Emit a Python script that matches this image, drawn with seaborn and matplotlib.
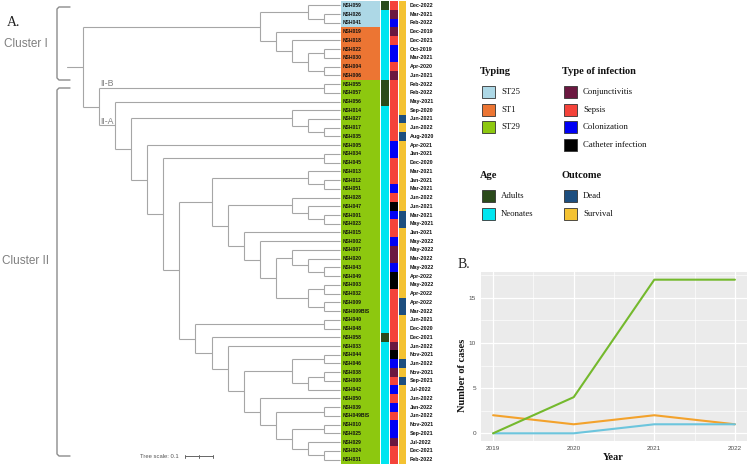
import numpy as np
import pandas as pd
import seaborn as sns
import matplotlib
matplotlib.use("Agg")
import matplotlib.pyplot as plt
from matplotlib.colors import ListedColormap
from matplotlib.patches import Rectangle
import matplotlib.transforms as mtransforms

# ---------------- data ----------------
isolates = ["NSH059", "NSH026", "NSH041", "NSH019", "NSH018", "NSH022", "NSH030", "NSH004", "NSH006",
            "NSH055", "NSH057", "NSH056", "NSH014", "NSH027", "NSH017", "NSH035", "NSH005", "NSH034",
            "NSH045", "NSH013", "NSH012", "NSH051", "NSH028", "NSH047", "NSH001", "NSH023", "NSH015",
            "NSH002", "NSH007", "NSH020", "NSH043", "NSH049", "NSH003", "NSH032", "NSH009", "NSH009BIS",
            "NSH040", "NSH048", "NSH058", "NSH033", "NSH044", "NSH046", "NSH038", "NSH008", "NSH042",
            "NSH050", "NSH039", "NSH049BIS", "NSH010", "NSH025", "NSH029", "NSH024", "NSH031"]
dates = ["Dec-2022", "Mar-2021", "Feb-2022", "Dec-2019", "Dec-2021", "Oct-2019", "Mar-2021", "Apr-2020",
         "Jun-2021", "Feb-2022", "Feb-2022", "May-2021", "Sep-2020", "Jun-2021", "Jun-2022", "Aug-2020",
         "Apr-2021", "Jan-2021", "Dec-2020", "Mar-2021", "Jan-2021", "Mar-2021", "Jun-2022", "Jun-2021",
         "Mar-2021", "May-2021", "Jan-2021", "May-2022", "May-2022", "Mar-2022", "May-2022", "Apr-2022",
         "May-2022", "Apr-2022", "Apr-2022", "Mar-2022", "Jun-2021", "Dec-2020", "Dec-2021", "Jun-2022",
         "Nov-2021", "Jun-2022", "Nov-2021", "Sep-2021", "Jul-2022", "Jun-2022", "Jan-2022", "Jun-2022",
         "Nov-2021", "Sep-2021", "Jul-2022", "Dec-2021", "Feb-2022"]
typing = ["ST25"] * 3 + ["ST1"] * 6 + ["ST29"] * 44
age = (["Adults"] + ["Neonates"] * 8 + ["Adults"] * 3 + ["Neonates"] * 26 + ["Adults"] + ["Neonates"] * 14)
infection_code = "SCKCSKKSCSSSSSSSKKSSSKSXKSSKCCKXXSSSSSSCXKCSKSKSKKCSS"
infection_names = {"C": "Conjunctivitis", "S": "Sepsis", "K": "Colonization", "X": "Catheter infection"}
infection = [infection_names[c] for c in infection_code]
dead_rows = ["NSH027", "NSH035", "NSH001", "NSH023", "NSH009", "NSH009BIS", "NSH046", "NSH008"]
outcome = ["Dead" if n in dead_rows else "Survival" for n in isolates]

# tree topology (Newick, cladogram: branch lengths not used)
clade_cluster1 = "((NSH059,(NSH026,NSH041)),(NSH019,(NSH018,((NSH022,NSH030),(NSH004,NSH006)))))"
clade_bottom = ("(NSH033,(((NSH044,NSH046),((NSH038,NSH008),NSH042)),"
                "(NSH050,((NSH039,NSH049BIS),((NSH010,NSH025),(NSH029,(NSH024,NSH031)))))))")
clade_lower = "((NSH040,NSH048),(NSH058," + clade_bottom + "))"
clade_mid = ("(NSH015,(NSH002,((NSH007,(NSH020,(NSH043,NSH049))),"
             "((NSH003,NSH032),(NSH009,NSH009BIS)))))")
clade_upper = "((NSH013,(NSH012,NSH051)),((NSH028,(NSH047,(NSH001,NSH023)))," + clade_mid + "))"
clade_2a = ("(NSH056,((NSH014,(NSH027,(NSH017,NSH035))),(NSH005,((NSH034,NSH045),("
            + clade_upper + "," + clade_lower + ")))))")
clade_cluster2 = "((NSH055,NSH057)," + clade_2a + ")"
tree_newick = "(" + clade_cluster1 + "," + clade_cluster2 + ")"

years = [2019, 2020, 2021, 2022]
cases_st1 = [2, 1, 2, 1]
cases_st25 = [0, 0, 1, 1]
cases_st29 = [0, 4, 17, 17]

typing_levels = ["ST25", "ST1", "ST29"]
typing_colors = ["#ADD8E6", "#EC7533", "#8DC80F"]
age_levels = ["Adults", "Neonates"]
age_colors = ["#2B4A1B", "#00E5F0"]
inf_levels = ["Conjunctivitis", "Sepsis", "Colonization", "Catheter infection"]
inf_colors = ["#6B1840", "#F4433A", "#0000F5", "#000000"]
out_levels = ["Dead", "Survival"]
out_colors = ["#1D4E7F", "#F4C232"]
line_colors = {"ST1": "#F3A22C", "ST25": "#6CC5DD", "ST29": "#74B92D"}

SERIF = ["Liberation Serif", "DejaVu Serif"]
SANS = ["Liberation Sans", "DejaVu Sans"]

# ---------------- tree parsing / layout ----------------
def parse_newick(s):
    s = s.replace(" ", "")
    pos = 0

    def node():
        nonlocal pos
        if s[pos] == "(":
            pos += 1
            kids = [node()]
            while s[pos] == ",":
                pos += 1
                kids.append(node())
            pos += 1
            return kids
        start = pos
        while pos < len(s) and s[pos] not in ",()":
            pos += 1
        return s[start:pos]
    return node()

tree = parse_newick(tree_newick)
row_of = {n: i + 0.5 for i, n in enumerate(isolates)}
hsegs, vsegs = [], []

def layout(n):
    if isinstance(n, str):
        return 0, row_of[n]
    res = [layout(c) for c in n]
    h = max(r[0] for r in res) + 1
    ys = [r[1] for r in res]
    for ch, cy in res:
        hsegs.append((h, ch, cy))
    vsegs.append((h, min(ys), max(ys)))
    return h, (min(ys) + max(ys)) / 2

root_h, root_y = layout(tree)

# ---------------- figure ----------------
sns.set_theme(style="white")
plt.rcParams["font.family"] = SANS
W, H = 750, 466
fig = plt.figure(figsize=(W / 100, H / 100), dpi=100)

def fax(x0, y0, x1, y1):
    return fig.add_axes([x0 / W, 1 - y1 / H, (x1 - x0) / W, (y1 - y0) / H])

TOP, BOT = 1.1, 463.9
TIP_PX, ROOT_PX = 340.0, 83.0
step = (TIP_PX - ROOT_PX) / root_h

ax_t = fax(0, TOP, 341, BOT)
ax_t.set_xlim(TIP_PX / step, (TIP_PX - 341) / step)
ax_t.set_ylim(len(isolates), 0)
ax_t.axis("off")
tree_col = "#A6A6A6"
for h, ch, y in hsegs:
    ax_t.plot([h, ch], [y, y], color=tree_col, lw=0.8, solid_capstyle="butt")
for h, y0, y1 in vsegs:
    ax_t.plot([h, h], [y0, y1], color=tree_col, lw=0.8, solid_capstyle="butt")
ax_t.plot([root_h, root_h + 1], [root_y, root_y], color=tree_col, lw=0.8)

def strip(x0, x1, values, levels, colors):
    ax = fax(x0, TOP, x1, BOT)
    codes = np.array([levels.index(v) for v in values]).reshape(-1, 1)
    sns.heatmap(codes, ax=ax, cmap=ListedColormap(colors), vmin=-0.5, vmax=len(colors) - 0.5,
                cbar=False, xticklabels=False, yticklabels=False)
    ax.set_xlabel(""); ax.set_ylabel("")
    return ax

ax_ty = strip(341, 380, typing, typing_levels, typing_colors)
ax_ag = strip(381, 389, age, age_levels, age_colors)
ax_in = strip(390, 397.7, infection, inf_levels, inf_colors)
ax_ou = strip(399, 405.7, outcome, out_levels, out_colors)

tr_lab = mtransforms.blended_transform_factory(fig.transFigure, ax_ty.transData)
for i, n in enumerate(isolates):
    ax_ty.text(343 / W, i + 0.5, n, transform=tr_lab, fontsize=3.6, fontweight="bold",
               color="#111111", va="center", ha="left")
    ax_ty.text(410 / W, i + 0.5, dates[i], transform=tr_lab, fontsize=3.9, fontweight="bold",
               color="#111111", va="center", ha="left", clip_on=False)

# ---------------- overlay annotations ----------------
ax_o = fig.add_axes([0, 0, 1, 1])
ax_o.set_xlim(0, W); ax_o.set_ylim(H, 0); ax_o.axis("off")
ax_o.patch.set_alpha(0)
gray = "#8C8C8C"

def bracket(y0, y1):
    ax_o.plot([70, 59, 57, 57, 59, 70], [y0, y0, y0 + 2, y1 - 2, y1, y1], color=gray, lw=1.0)

bracket(7, 80)
bracket(88, 456)
ax_o.text(26, 44, "Cluster I", fontsize=8.5, color="#7F7F7F", ha="center", va="center", family=SANS)
ax_o.text(26, 261, "Cluster II", fontsize=8.5, color="#7F7F7F", ha="center", va="center", family=SANS)
ax_o.text(7, 23, "A.", fontsize=10, color="#222222", ha="left", va="center", family=SERIF)
ax_o.text(458, 265, "B.", fontsize=10, color="#222222", ha="left", va="center", family=SERIF)
ax_o.text(100, 84, "II-B", fontsize=6.3, color="#7F7F7F", ha="left", va="center", family=SANS)
ax_o.text(100, 122, "II-A", fontsize=6.3, color="#7F7F7F", ha="left", va="center", family=SANS)
ax_o.text(140, 456, "Tree scale: 0.1", fontsize=4.2, color="#555555", ha="left", va="center", family=SANS)
ax_o.plot([185, 213], [456, 456], color="#666666", lw=0.7)
for xx in (185, 199, 213):
    ax_o.plot([xx, xx], [454.5, 457.5], color="#666666", lw=0.7)

def legend_block(x, y_title, title, labels, colors, y_first):
    ax_o.text(x - 2, y_title, title, fontsize=7.5, fontweight="bold", family=SERIF,
              color="#111111", ha="left", va="center")
    for k, (lab, col) in enumerate(zip(labels, colors)):
        yc = y_first + k * 17.7
        ax_o.add_patch(Rectangle((x, yc - 6), 13, 12, facecolor=col, edgecolor="#333333", lw=0.6))
        ax_o.text(x + 19, yc, lab, fontsize=6.3, family=SERIF, color="#111111", ha="left", va="center")

legend_block(482, 72, "Typing", typing_levels, typing_colors, 92)
legend_block(564, 72, "Type of infection", inf_levels, inf_colors, 92)
legend_block(482, 176, "Age", age_levels, age_colors, 196)
legend_block(564, 176, "Outcome", out_levels, out_colors, 196)

# ---------------- panel B ----------------
axB = fax(481, 272, 747, 441)
dfB = pd.DataFrame({
    "Year": years * 3,
    "cases": cases_st1 + cases_st25 + cases_st29,
    "Typing": ["ST1"] * 4 + ["ST25"] * 4 + ["ST29"] * 4,
})
axB.set_facecolor("#EBEBEB")
axB.set_axisbelow(True)
sns.lineplot(data=dfB, x="Year", y="cases", hue="Typing", hue_order=["ST1", "ST25", "ST29"],
             palette=line_colors, linewidth=1.5, legend=False, ax=axB)
axB.set_xlim(2018.85, 2022.15)
axB.set_ylim(-0.85, 17.85)
axB.set_xticks(years)
axB.set_xticklabels([str(y) for y in years])
axB.set_xticks([2019.5, 2020.5, 2021.5], minor=True)
axB.set_yticks([0, 5, 10, 15])
axB.set_yticks([2.5, 7.5, 12.5, 17.5], minor=True)
axB.grid(which="major", color="white", lw=0.9)
axB.grid(which="minor", color="white", lw=0.45)
for sp in axB.spines.values():
    sp.set_visible(False)
axB.tick_params(which="major", length=2, width=0.6, color="#333333", labelsize=4.6,
                labelcolor="#4D4D4D", pad=1.5)
axB.tick_params(which="minor", length=0)
axB.set_xlabel(""); axB.set_ylabel("")
ax_o.text(462.5, 375, "Number of cases", rotation=90, fontsize=7.5, fontweight="bold",
          family=SERIF, color="#111111", ha="center", va="center")
ax_o.text(613, 457, "Year", fontsize=7.5, fontweight="bold", family=SERIF, color="#111111",
          ha="center", va="center")

fig.savefig("out.png", dpi=100, facecolor="white")
